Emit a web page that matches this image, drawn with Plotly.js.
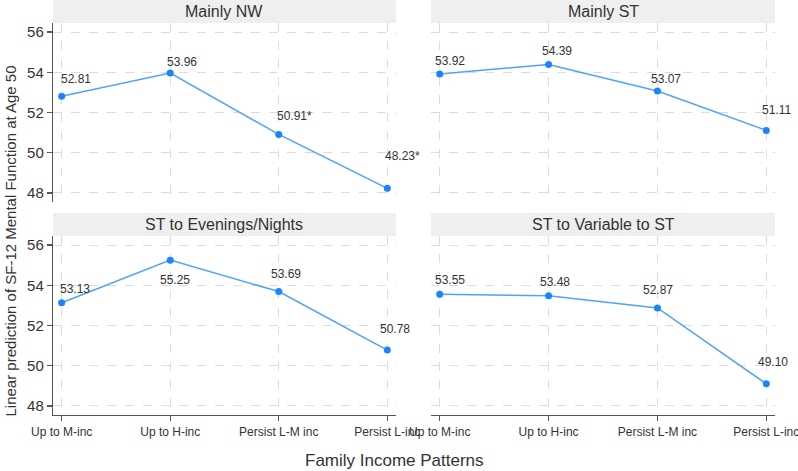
<!DOCTYPE html>
<html>
<head>
<meta charset="utf-8">
<script src="https://cdn.plot.ly/plotly-3.0.1.min.js"></script>
<style>html,body{margin:0;padding:0;background:#fff;}#chart{width:798px;height:471px;}</style>
</head>
<body>
<div id="chart"></div>
<script>
// ---- data ----
const categories = ["Up to M-inc", "Up to H-inc", "Persist L-M inc", "Persist L-inc"];
const panelTitles = ["Mainly NW", "Mainly ST", "ST to Evenings/Nights", "ST to Variable to ST"];
const mainlyNW = [52.81, 53.96, 50.91, 48.23];
const mainlyST = [53.92, 54.39, 53.07, 51.11];
const stEveningsNights = [53.13, 55.25, 53.69, 50.78];
const stVariableST = [53.55, 53.48, 52.87, 49.10];
const labelsNW = ["52.81", "53.96", "50.91*", "48.23*"];
const labelsST = ["53.92", "54.39", "53.07", "51.11"];
const labelsEN = ["53.13", "55.25", "53.69", "50.78"];
const labelsVS = ["53.55", "53.48", "52.87", "49.10"];
const yTicks = [48, 50, 52, 54, 56];
const xTitle = "Family Income Patterns";
const yTitle = "Linear prediction of SF-12 Mental Function at Age 50";

// ---- style (label offsets in px) ----
const labelDX = [[-3,-5,-4,-4],[-7,-9,-8,-6],[-4,-12,-10,-9],[-7,-11,-16,-10]];
const labelDY = [[17,11,18,32],[13,13,12,20],[14,-20,18,21],[14,14,18,22]];

const series = [mainlyNW, mainlyST, stEveningsNights, stVariableST];
const labels = [labelsNW, labelsST, labelsEN, labelsVS];

const W = 798, H = 471;
const xDom = [[53/W, 396/W], [431/W, 775/W]];
const yDom = [[1-202/H, 1-23/H], [1-415/H, 1-236/H]];
const stripY = [[1-23/H, 1-0/H], [1-236/H, 1-213/H]];

const font = "Liberation Sans, Arial, sans-serif";
const traces = [];
const annotations = [];
const shapes = [];
const layout = {
  width: W, height: H,
  margin: {l: 0, r: 0, t: 0, b: 0},
  paper_bgcolor: "#fff", plot_bgcolor: "#fff",
  showlegend: false,
  font: {family: font, color: "#333"}
};

for (let i = 0; i < 4; i++) {
  const col = i % 2, row = Math.floor(i / 2);
  const n = i + 1;
  const xa = "xaxis" + (n === 1 ? "" : n), ya = "yaxis" + (n === 1 ? "" : n);
  const xr = "x" + (n === 1 ? "" : n), yr = "y" + (n === 1 ? "" : n);
  traces.push({
    type: "scatter", mode: "lines+markers",
    x: categories, y: series[i], xaxis: xr, yaxis: yr,
    line: {color: "#4da3ff", width: 1.5},
    marker: {color: "#1a84ff", size: 7},
    hoverinfo: "skip"
  });
  layout[xa] = {
    domain: xDom[col], anchor: yr,
    type: "category", categoryorder: "array", categoryarray: categories,
    range: [-0.08, 3.08],
    showgrid: true, gridcolor: "#dcdcdc", griddash: "dash", gridwidth: 1,
    zeroline: false,
    showline: row === 1, linecolor: "#555", linewidth: 1.2,
    ticks: row === 1 ? "outside" : "", ticklen: 5, tickcolor: "#555", tickwidth: 1.2,
    showticklabels: row === 1,
    tickfont: {size: 12, color: "#333", family: font},
    fixedrange: true
  };
  layout[ya] = {
    domain: yDom[row], anchor: xr,
    range: [47.55, 56.45],
    tickvals: yTicks, ticktext: yTicks.map(String),
    showgrid: true, gridcolor: "#dcdcdc", griddash: "dash", gridwidth: 1,
    zeroline: false,
    showline: col === 0, linecolor: "#555", linewidth: 1.2,
    ticks: col === 0 ? "outside" : "", ticklen: 5, tickcolor: "#555", tickwidth: 1.2,
    showticklabels: col === 0,
    tickfont: {size: 15, color: "#333", family: font},
    fixedrange: true
  };
  shapes.push({
    type: "rect", xref: "paper", yref: "paper",
    x0: xDom[col][0], x1: xDom[col][1], y0: stripY[row][0], y1: stripY[row][1],
    fillcolor: "#efefef", line: {width: 0}, layer: "below"
  });
  annotations.push({
    xref: "paper", yref: "paper",
    x: (xDom[col][0] + xDom[col][1]) / 2, y: (stripY[row][0] + stripY[row][1]) / 2,
    xanchor: "center", yanchor: "middle",
    text: panelTitles[i], showarrow: false,
    font: {size: 16, color: "#333", family: font}
  });
  for (let k = 0; k < 4; k++) {
    annotations.push({
      xref: xr, yref: yr, x: categories[k], y: series[i][k],
      text: labels[i][k], showarrow: false,
      xanchor: "left", yanchor: "middle",
      xshift: labelDX[i][k], yshift: labelDY[i][k],
      font: {size: 12, color: "#333", family: font}
    });
  }
}

annotations.push({
  xref: "paper", yref: "paper", x: 394.5 / W, y: 1 - 460 / H,
  xanchor: "center", yanchor: "middle", showarrow: false,
  text: xTitle, font: {size: 17, color: "#333", family: font}
});
annotations.push({
  xref: "paper", yref: "paper", x: 0, y: 1 - 241 / H,
  xanchor: "left", yanchor: "middle", showarrow: false, textangle: -90,
  borderpad: 0,
  text: yTitle, font: {size: 15, color: "#333", family: font}
});

layout.shapes = shapes;
layout.annotations = annotations;

Plotly.newPlot("chart", traces, layout, {displayModeBar: false, staticPlot: true});
</script>
</body>
</html>
